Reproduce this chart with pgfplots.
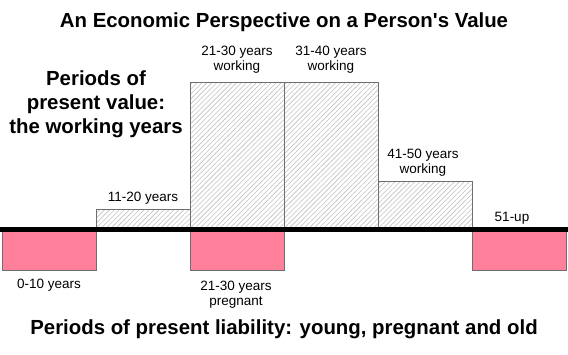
\documentclass[border=0pt]{standalone}
\usepackage{pgfplots}
\pgfplotsset{compat=1.18}
\usetikzlibrary{patterns.meta}
\usepackage{fontspec}
\setmainfont{Liberation Sans}[Ligatures=TeXOff]
\definecolor{pinkbar}{RGB}{255,128,155}
\definecolor{barline}{RGB}{110,110,110}
\definecolor{hatch}{RGB}{192,192,192}
\newcommand{\bigb}{\fontsize{20.4}{24}\selectfont\bfseries}
\newcommand{\lab}{\fontsize{13.5}{15}\selectfont}
\begin{document}
\begin{tikzpicture}
\useasboundingbox (0pt,0pt) rectangle (568pt,-354pt);
\begin{axis}[
  at={(0pt,-270pt)}, anchor=south west,
  width=568pt, height=188pt, scale only axis,
  xmin=-0.5213, xmax=5.5213,
  ymin=-40.5, ymax=147.5,
  hide axis, clip=false,
]
\addplot[ybar, bar width=1, bar shift=0pt, draw=barline, line width=0.8pt,
  pattern={Lines[angle=45,distance=3.5pt,line width=0.6pt]}, pattern color=hatch]
  coordinates {(1,20.2) (2,147.5) (3,147.5) (4,48.5)};
\addplot[ybar, bar width=1, bar shift=0pt, draw=barline, line width=0.8pt, fill=pinkbar]
  coordinates {(0,-40.5) (2,-40.5) (5,-40.5)};
\draw[line width=5.5pt, black] (axis cs:-0.5213,0) -- (axis cs:5.5213,0);
\end{axis}
% title
\node[anchor=base] at (284pt,-27pt) {\bigb An Economic Perspective on a Person's Value};
% left text
\node[anchor=base] at (96pt,-85pt) {\bigb Periods of};
\node[anchor=base] at (96pt,-109pt) {\bigb present value:};
\node[anchor=base] at (96pt,-133pt) {\bigb the working years};
% bottom text
\node[anchor=base] at (284pt,-334pt) {\bigb Periods of present liability: young, pregnant and old};
% bar labels
\node[anchor=base] at (237pt,-55pt) {\lab 21-30 years};
\node[anchor=base] at (237pt,-70pt) {\lab working};
\node[anchor=base] at (331pt,-55pt) {\lab 31-40 years};
\node[anchor=base] at (331pt,-70pt) {\lab working};
\node[anchor=base] at (143pt,-201pt) {\lab 11-20 years};
\node[anchor=base] at (423pt,-158pt) {\lab 41-50 years};
\node[anchor=base] at (423pt,-173pt) {\lab working};
\node[anchor=base] at (512pt,-221pt) {\lab 51-up};
\node[anchor=base] at (49pt,-288pt) {\lab 0-10 years};
\node[anchor=base] at (236pt,-290pt) {\lab 21-30 years};
\node[anchor=base] at (236pt,-305pt) {\lab pregnant};
\end{tikzpicture}
\end{document}
